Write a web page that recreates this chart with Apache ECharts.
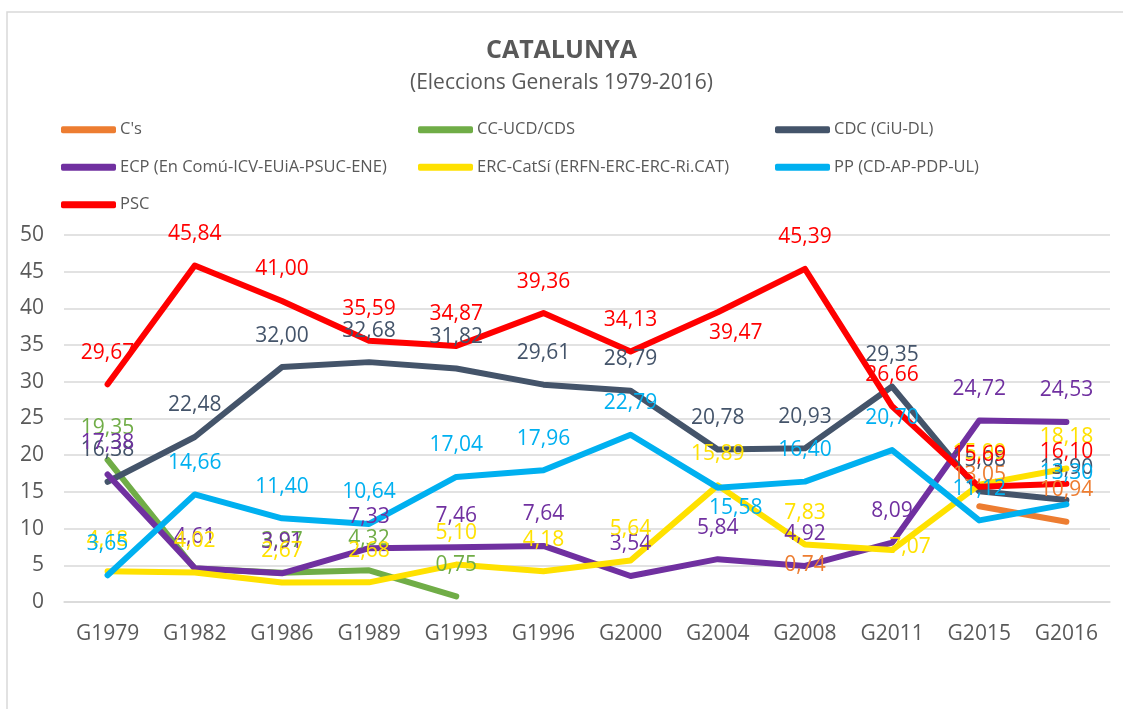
<!DOCTYPE html>
<html>
<head>
<meta charset="utf-8">
<script src="https://cdn.jsdelivr.net/npm/echarts@6/dist/echarts.min.js"></script>
<style>
html,body{margin:0;padding:0;background:#fff;}
#chart{width:1123px;height:709px;}
</style>
</head>
<body>
<div id="chart"></div>
<script>
const categories = ['G1979','G1982','G1986','G1989','G1993','G1996','G2000','G2004','G2008','G2011','G2015','G2016'];
const seriesNames = ["C's", 'CC-UCD/CDS', 'CDC (CiU-DL)', 'ECP (En Comú-ICV-EUiA-PSUC-ENE)', 'ERC-CatSí (ERFN-ERC-ERC-Ri.CAT)', 'PP (CD-AP-PDP-UL)', 'PSC'];
const cs     = [null, null, null, null, null, null, null, null, 0.74, null, 13.05, 10.94];
const ccUcd  = [19.35, 4.55, 3.97, 4.32, 0.75, null, null, null, null, null, null, null];
const cdc    = [16.38, 22.48, 32.00, 32.68, 31.82, 29.61, 28.79, 20.78, 20.93, 29.35, 15.08, 13.90];
const ecp    = [17.38, 4.61, 3.91, 7.33, 7.46, 7.64, 3.54, 5.84, 4.92, 8.09, 24.72, 24.53];
const erc    = [4.18, 4.02, 2.67, 2.68, 5.10, 4.18, 5.64, 15.89, 7.83, 7.07, 15.99, 18.18];
const pp     = [3.65, 14.66, 11.40, 10.64, 17.04, 17.96, 22.79, 15.58, 16.40, 20.70, 11.12, 13.30];
const psc    = [29.67, 45.84, 41.00, 35.59, 34.87, 39.36, 34.13, 39.47, 45.39, 26.66, 15.69, 16.10];
const yTicks = [0, 5, 10, 15, 20, 25, 30, 35, 40, 45, 50];

const seriesValues = [cs, ccUcd, cdc, ecp, erc, pp, psc];
const colors = ['#ED7D31', '#70AD47', '#44546A', '#7030A0', '#FFE100', '#00B0F0', '#FF0000'];
const FONT = '"Open Sans", "Noto Sans", sans-serif';
const TXT = '#595959';

// label placement tweaks (series index -> point index -> label options)
const labelTweaks = {
  1: { 1: { show: false } },
  5: { 7: { offset: [18, 52] } },
  6: { 7: { offset: [18, 52] } },
  4: { 9: { offset: [18, 28] } }
};

const fmt = v => (v == null ? '' : Number(v).toFixed(2).replace('.', ','));

const series = seriesNames.map((name, si) => ({
  name: name,
  type: 'line',
  data: seriesValues[si].map((v, i) => {
    const tw = labelTweaks[si] && labelTweaks[si][i];
    return tw ? { value: v, label: tw } : v;
  }),
  symbol: 'circle',
  symbolSize: 0.1,
  showSymbol: true,
  connectNulls: false,
  color: colors[si],
  lineStyle: { width: 6, color: colors[si], cap: 'round', join: 'round' },
  itemStyle: { color: colors[si] },
  label: {
    show: true,
    position: 'top',
    distance: 21,
    color: colors[si],
    fontFamily: FONT,
    fontSize: 21,
    formatter: p => fmt(p.value)
  },
  emphasis: { disabled: true },
  animation: false
}));

const chart = echarts.init(document.getElementById('chart'), null, { renderer: 'canvas' });
chart.setOption({
  backgroundColor: '#ffffff',
  animation: false,
  title: {
    text: 'CATALUNYA',
    subtext: '(Eleccions Generals 1979-2016)',
    left: 'center',
    top: 33,
    padding: [5, 0, 5, 20],
    itemGap: 10,
    textStyle: { fontFamily: FONT, fontSize: 25, fontWeight: 'bold', color: TXT },
    subtextStyle: { fontFamily: FONT, fontSize: 21, color: TXT }
  },
  legend: {
    data: seriesNames,
    left: 61,
    top: 111,
    width: 1080,
    orient: 'horizontal',
    itemWidth: 55,
    itemHeight: 7,
    itemGap: 0,
    icon: 'roundRect',
    padding: 0,
    selectedMode: false,
    textStyle: { fontFamily: FONT, fontSize: 16.5, color: TXT, width: 298, lineHeight: 37.5, overflow: 'truncate', padding: [0, 0, 0, -1] }
  },
  grid: { left: 64, right: 13, top: 235, bottom: 107 },
  xAxis: {
    type: 'category',
    data: categories,
    boundaryGap: true,
    axisLine: { show: true, lineStyle: { color: '#D9D9D9', width: 1.5 } },
    axisTick: { show: false },
    axisLabel: { fontFamily: FONT, fontSize: 21, color: TXT, margin: 22 },
    splitLine: { show: false }
  },
  yAxis: {
    type: 'value',
    min: yTicks[0],
    max: yTicks[yTicks.length - 1],
    interval: yTicks[1] - yTicks[0],
    axisLine: { show: false },
    axisTick: { show: false },
    axisLabel: { fontFamily: FONT, fontSize: 21, color: TXT, margin: 20 },
    splitLine: { show: true, lineStyle: { color: '#D9D9D9', width: 1.5 } }
  },
  graphic: [{
    type: 'rect',
    shape: { x: 7, y: 12, width: 1300, height: 900 },
    style: { fill: null, stroke: '#D9D9D9', lineWidth: 1.5 },
    silent: true,
    z: -10
  }],
  series: series
});
</script>
</body>
</html>
